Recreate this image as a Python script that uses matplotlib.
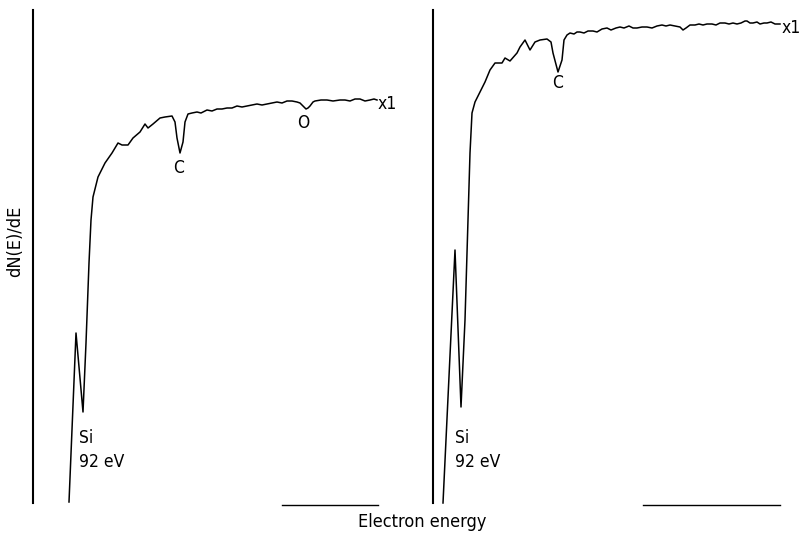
import matplotlib.pyplot as plt

plt.rcParams['font.family'] = 'DejaVu Sans'
plt.rcParams['font.stretch'] = 'condensed'

# left spectrum (energy in arbitrary units, dN(E)/dE in arbitrary units)
e_left = [36, 43, 50, 53, 56, 58, 60, 65, 72, 79, 85, 89, 95, 100, 107, 112, 115,
          120, 127, 132, 139, 142, 144, 147, 150, 152, 155, 159, 164, 168, 174,
          179, 184, 189, 194, 199, 204, 209, 214, 219, 224, 229, 234, 239, 244,
          249, 254, 259, 264, 267, 269, 271, 273, 275, 277, 280, 282, 288, 294,
          300, 307, 312, 317, 322, 327, 332, 337, 341, 344]
i_left = [3, 172, 93, 162, 242, 285, 308, 328, 342, 352, 362, 360, 360, 367, 373,
          381, 377, 381, 387, 388, 389, 383, 367, 352, 363, 383, 391, 392, 393,
          392, 395, 394, 396, 396, 397, 397, 399, 398, 399, 400, 401, 400, 401,
          402, 403, 402, 404, 404, 403, 402, 400, 398, 396, 397, 399, 403, 404,
          405, 405, 404, 405, 405, 404, 406, 406, 404, 405, 406, 405]

# right spectrum
e_right = [10, 22, 28, 32, 37, 39, 42, 47, 52, 57, 62, 69, 72, 77, 84, 87, 92, 97,
           102, 107, 114, 118, 120, 125, 129, 131, 134, 137, 141, 144, 147, 151,
           155, 160, 164, 169, 174, 178, 183, 187, 191, 196, 200, 204, 209, 214,
           219, 224, 229, 233, 237, 242, 247, 250, 253, 257, 262, 266, 270, 274,
           279, 283, 287, 292, 296, 300, 304, 308, 312, 314, 317, 320, 324, 327,
           331, 334, 338, 342, 347]
i_right = [2, 255, 98, 185, 352, 392, 403, 413, 423, 435, 442, 442, 447, 444, 452,
           458, 465, 455, 463, 465, 466, 463, 452, 433, 445, 465, 470, 472, 471,
           473, 473, 472, 474, 474, 473, 476, 477, 475, 477, 478, 477, 479, 477,
           477, 478, 478, 477, 479, 480, 479, 480, 479, 478, 475, 477, 480, 480,
           481, 480, 481, 481, 480, 482, 482, 481, 482, 481, 482, 484, 484, 482,
           482, 483, 481, 482, 482, 483, 481, 481]

# energy scale bars along the bottom
bar_left = (249, 345)
bar_right = (210, 347)

W, H = 805, 534
fig = plt.figure(figsize=(W / 100, H / 100), dpi=100)
ax1 = fig.add_axes([33 / W, 29 / H, 367 / W, 497 / H])
ax2 = fig.add_axes([433 / W, 29 / H, 367 / W, 497 / H])

for ax, e, i, bar in [(ax1, e_left, i_left, bar_left), (ax2, e_right, i_right, bar_right)]:
    ax.plot(e, i, color='black', lw=1.1)
    ax.plot(bar, [0, 0], color='black', lw=1.0, clip_on=False)
    ax.set_xlim(0, 367)
    ax.set_ylim(0, 497)
    for s in ['top', 'right', 'bottom']:
        ax.spines[s].set_visible(False)
    ax.spines['left'].set_linewidth(1.5)
    ax.spines['left'].set_bounds(2, 495)
    ax.set_xticks([])
    ax.set_yticks([])
    ax.patch.set_alpha(0)

# peak labels
fs = 12.5
ax1.text(46, 67, 'Si', fontsize=fs, ha='left', va='center')
ax1.text(46, 43, '92 eV', fontsize=fs, ha='left', va='center')
ax1.text(146, 337, 'C', fontsize=fs, ha='center', va='center')
ax1.text(270, 382, 'O', fontsize=fs, ha='center', va='center')
ax1.text(345, 401, 'x1', fontsize=fs, ha='left', va='center')

ax2.text(22, 67, 'Si', fontsize=fs, ha='left', va='center')
ax2.text(22, 43, '92 eV', fontsize=fs, ha='left', va='center')
ax2.text(125, 422, 'C', fontsize=fs, ha='center', va='center')
ax2.text(349, 477, 'x1', fontsize=fs, ha='left', va='center')

fig.text(422 / W, 1 - 527 / H, 'Electron energy', fontsize=13, ha='center', va='baseline')
fig.text(15 / W, 1 - 241 / H, 'dN(E)/dE', fontsize=13, ha='center', va='center', rotation=90)

plt.savefig('out.png', dpi=100)
